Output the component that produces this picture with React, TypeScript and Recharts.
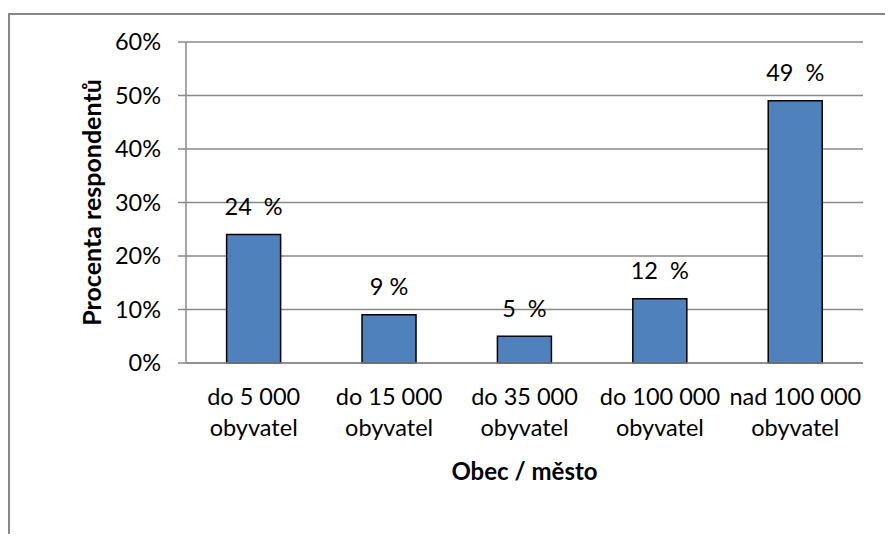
import React from 'react';
import { BarChart, Bar, XAxis, YAxis, CartesianGrid, LabelList } from 'recharts';

// Respondents by size of their municipality
const categories = [
  'do 5 000\nobyvatel',
  'do 15 000\nobyvatel',
  'do 35 000\nobyvatel',
  'do 100 000\nobyvatel',
  'nad 100 000\nobyvatel',
];
const shares = [24, 9, 5, 12, 49];
// the nbsp keeps the wider gap before "%" (Recharts Text collapses plain spaces)
const shareLabels = ['24\u00a0 %', '9 %', '5\u00a0 %', '12\u00a0 %', '49\u00a0 %'];
const yTicks = [0, 10, 20, 30, 40, 50, 60];

const FONT = 'Lato, "Open Sans", sans-serif';
const GRID = '#888888';

const data = categories.map((name, i) => ({ name, share: shares[i], label: shareLabels[i] }));

const CategoryTick = ({ x, y, payload }: any) => {
  const [first, second] = String(payload.value).split('\n');
  return (
    <text x={x} y={y} textAnchor="middle" fill="#000" fontSize={23.5} fontFamily={FONT}>
      <tspan x={x} dy={42}>{first}</tspan>
      <tspan x={x} dy={31}>{second}</tspan>
    </text>
  );
};

const XTitle = ({ viewBox }: any) => (
  <text
    x={viewBox.x + viewBox.width / 2}
    y={viewBox.y + 117}
    textAnchor="middle"
    fill="#000"
    fontSize={24}
    fontWeight="bold"
    fontFamily={FONT}
  >
    Obec / město
  </text>
);

const App: React.FC = () => {
  return (
    <div style={{ position: 'relative', top: 5, width: 885, height: 526 }}>
      <style>{'body { overflow: hidden; }'}</style>
      <div
        style={{
          position: 'absolute',
          left: 0,
          top: 0,
          width: 900,
          height: 600,
          borderLeft: `2px solid ${GRID}`,
          borderTop: `2px solid ${GRID}`,
          boxSizing: 'border-box',
        }}
      />
      <div style={{ position: 'absolute', left: 0, top: 0 }}>
        <BarChart
          width={885}
          height={526}
          data={data}
          margin={{ top: 29, right: 30, left: 0, bottom: 0 }}
          barCategoryGap="30%"
        >
          <CartesianGrid vertical={false} stroke={GRID} strokeWidth={1.5} />
          <XAxis
            dataKey="name"
            height={176}
            tickLine={false}
            tickSize={0}
            tickMargin={0}
            stroke={GRID}
            strokeWidth={1.5}
            tick={<CategoryTick />}
            interval={0}
            label={{ content: <XTitle /> }}
          />
          <YAxis
            width={178}
            domain={[0, 60]}
            ticks={yTicks}
            tickFormatter={(v) => `${v}%`}
            tickSize={8}
            tickMargin={17}
            stroke={GRID}
            strokeWidth={1.5}
            tick={{ fill: '#000', fontSize: 23.5, fontFamily: FONT }}
            label={{
              value: 'Procenta respondentů',
              angle: -90,
              position: 'center',
              dx: -5,
              fill: '#000',
              fontSize: 25,
              fontWeight: 'bold',
              fontFamily: FONT,
            }}
          />
          <Bar dataKey="share" fill="#4F81BD" stroke="#000" strokeWidth={1.5} isAnimationActive={false}>
            <LabelList
              dataKey="label"
              position="top"
              offset={19.5}
              fill="#000"
              fontSize={23.5}
              fontFamily={FONT}
            />
          </Bar>
        </BarChart>
      </div>
    </div>
  );
};

export default App;
